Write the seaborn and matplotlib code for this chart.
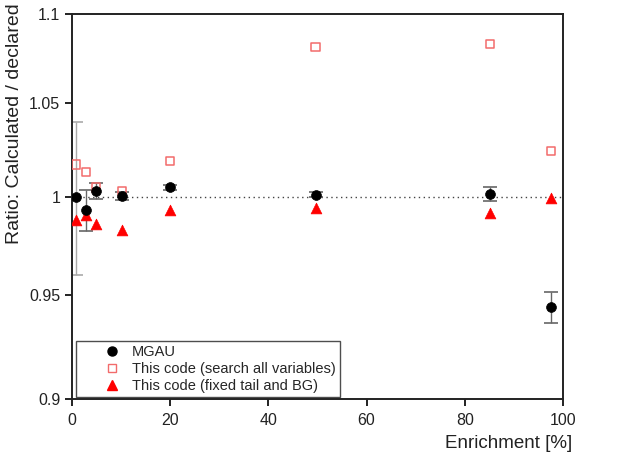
import numpy as np
import pandas as pd
import matplotlib
matplotlib.use("Agg")
import matplotlib.pyplot as plt
from matplotlib.lines import Line2D
from matplotlib.ticker import FixedLocator, FixedFormatter, NullLocator
import seaborn as sns

# ---- data ----
enrichment = [0.8, 2.9, 4.9, 10.1, 20.0, 49.6, 85.1, 97.6]
mgau = [1.000, 0.993, 1.003, 1.0005, 1.005, 1.0012, 1.0016, 0.944]
mgau_err = [0.040, 0.0105, 0.004, 0.002, 0.0012, 0.0012, 0.0035, 0.0078]
search_all = [1.017, 1.013, 1.0049, 1.003, 1.019, 1.081, 1.083, 1.024]
fixed_tail = [0.988, 0.9907, 0.9862, 0.9828, 0.9931, 0.9944, 0.9915, 0.9993]

series_labels = ["MGAU", "This code (search all variables)", "This code (fixed tail and BG)"]
yticks = [0.9, 0.95, 1.0, 1.05, 1.1]
ytick_labels = ["0.9", "0.95", "1", "1.05", "1.1"]
xticks = [0, 20, 40, 60, 80, 100]

df = pd.DataFrame({"enrichment": enrichment, "mgau": mgau, "err": mgau_err,
                   "search": search_all, "fixed": fixed_tail})

sns.set_theme(style="white")
plt.rcParams["font.family"] = ["Liberation Sans", "DejaVu Sans"]

fig, ax = plt.subplots(figsize=(6.21, 4.54), dpi=100)
fig.subplots_adjust(left=0.1159, right=0.9066, top=0.9692, bottom=0.1211)

ax.set_yscale("log")
ax.set_xlim(0, 100)
ax.set_ylim(0.9, 1.1)

ax.axhline(1.0, xmin=0.012, xmax=1.0, ls=(0, (1, 2.5)), color="#444444", lw=1.0, zorder=1)

# error bars for MGAU
ecolors = ["#aaaaaa"] + ["#666666"] * (len(enrichment) - 1)
for xi, yi, ei, ec in zip(df["enrichment"], df["mgau"], df["err"], ecolors):
    ax.errorbar([xi], [yi], yerr=[ei], fmt="none", ecolor=ec, elinewidth=1.0,
                capsize=5, capthick=1.2, zorder=2)

red_light = "#f26b6b"
sns.scatterplot(data=df, x="enrichment", y="search", marker="s", s=34,
                color=red_light, facecolor="none", edgecolor=red_light, linewidth=1.1,
                ax=ax, legend=False, zorder=3)
sns.scatterplot(data=df, x="enrichment", y="fixed", marker="^", s=60,
                color="#ff0000", edgecolor="#ff0000", linewidth=0.5,
                ax=ax, legend=False, zorder=4)
sns.scatterplot(data=df, x="enrichment", y="mgau", marker="o", s=50,
                color="black", edgecolor="black", linewidth=0.5,
                ax=ax, legend=False, zorder=5)

# axes styling
ax.yaxis.set_major_locator(FixedLocator(yticks))
ax.yaxis.set_major_formatter(FixedFormatter(ytick_labels))
ax.yaxis.set_minor_locator(NullLocator())
ax.set_xticks(xticks)
ax.set_xticklabels([str(t) for t in xticks])
for sp in ax.spines.values():
    sp.set_color("#222222")
    sp.set_linewidth(1.4)
ax.tick_params(axis="both", which="major", direction="out", length=5, width=1.4,
               color="#222222", labelsize=11.5, labelcolor="#222222", pad=3.5)
ax.tick_params(axis="x", top=False, bottom=True, pad=5)
ax.tick_params(axis="y", left=True, right=False)

ax.set_ylabel("Ratio: Calculated / declared", fontsize=14, color="#222222")
ax.yaxis.set_label_coords(-0.1, 0.715)
ax.set_xlabel("Enrichment [%]", fontsize=13.5, color="#222222", loc="right")
ax.xaxis.set_label_coords(1.018, -0.093)

handles = [
    Line2D([], [], ls="none", marker="o", color="black", markersize=6.5),
    Line2D([], [], ls="none", marker="s", markerfacecolor="none",
           markeredgecolor=red_light, markersize=5.5),
    Line2D([], [], ls="none", marker="^", color="#ff0000", markersize=6.5),
]
leg = ax.legend(handles, series_labels, loc="lower left", bbox_to_anchor=(0.008, 0.005),
                borderaxespad=0, fontsize=10.5, frameon=True, fancybox=False,
                handlelength=4.3, handletextpad=-0.75, borderpad=0.3, labelspacing=0.2,
                edgecolor="#222222")
leg.get_frame().set_linewidth(1.0)
leg.get_frame().set_facecolor("white")

fig.savefig("out.png", dpi=100)
